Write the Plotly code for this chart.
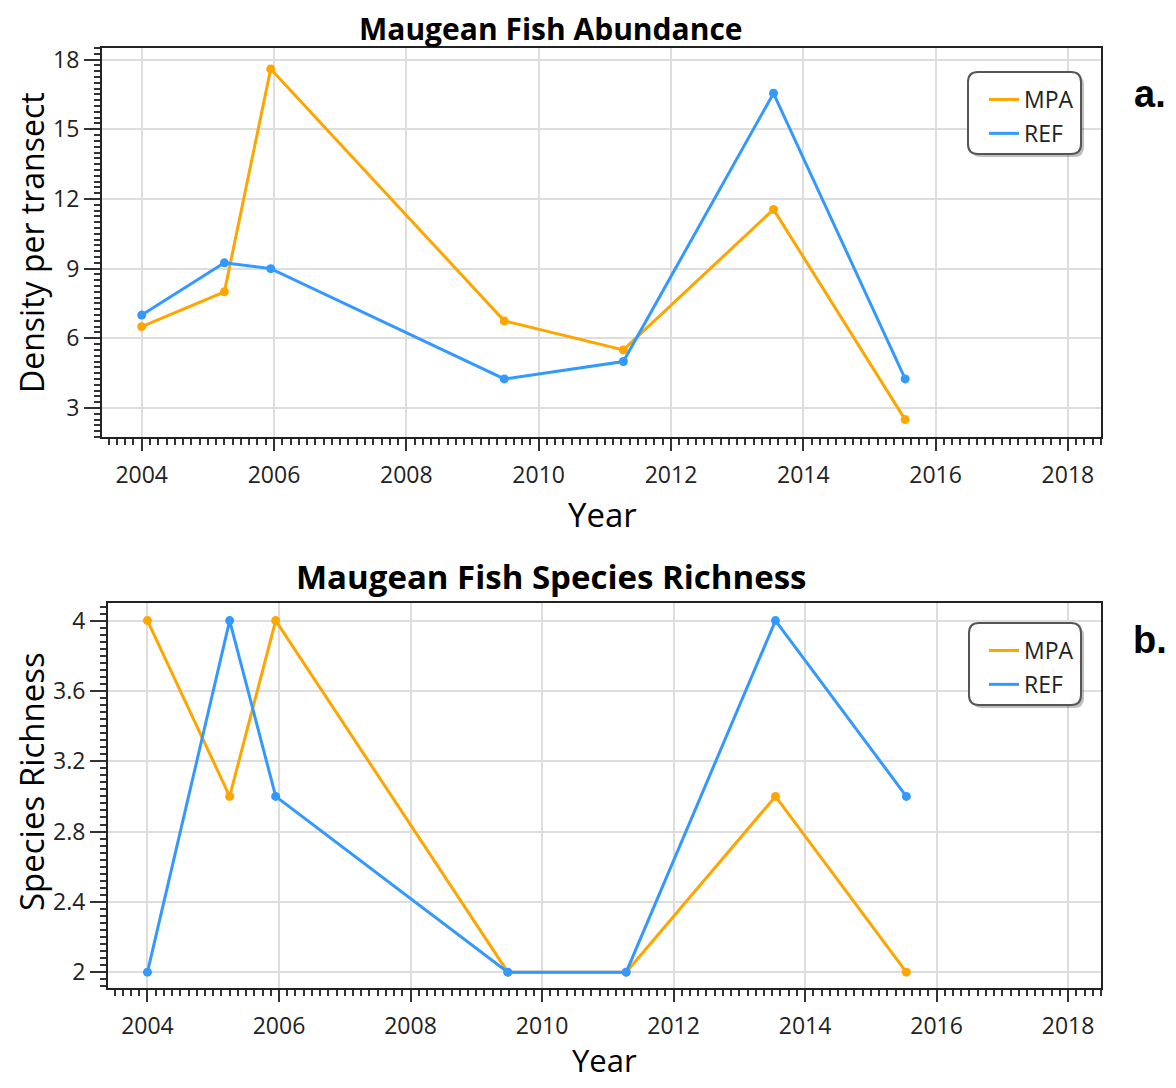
import plotly.graph_objects as go

# page body has an 8px margin; draw in a 1160x1072 figure and shift coordinates
OFF = 8
W, H = 1160, 1072

# ---- data ----
years = [2004.0, 2005.25, 2005.95, 2009.48, 2011.28, 2013.55, 2015.54]
abund_mpa = [6.5, 8.0, 17.6, 6.75, 5.5, 11.55, 2.5]
abund_ref = [7.0, 9.25, 9.0, 4.25, 5.0, 16.55, 4.25]
rich_mpa = [4, 3, 4, 2, 2, 3, 2]
rich_ref = [2, 4, 3, 2, 2, 4, 3]
x_ticks = [2004, 2006, 2008, 2010, 2012, 2014, 2016, 2018]
abund_ticks = [3, 6, 9, 12, 15, 18]
rich_ticks = [2, 2.4, 2.8, 3.2, 3.6, 4]
rich_tick_text = ["2", "2.4", "2.8", "3.2", "3.6", "4"]

ORANGE = "#FFA500"
BLUE = "#3399FF"
FONT = "Open Sans"

def px(x):
    return (x - OFF) / W

def py(y):
    return 1 - (y - OFF) / H

fig = go.Figure()

def add_series(x, y, name, color, xa, ya, legend):
    fig.add_trace(go.Scatter(
        x=x, y=y, name=name, mode="lines+markers",
        line=dict(color=color, width=3),
        marker=dict(color=color, size=9),
        xaxis=xa, yaxis=ya, showlegend=False, legendgroup=legend + name))
    # legend entry (line only)
    fig.add_trace(go.Scatter(
        x=[None], y=[None], name=name, mode="lines",
        line=dict(color=color, width=3),
        xaxis=xa, yaxis=ya, legend=legend, showlegend=True,
        legendgroup=legend + name))

add_series(years, abund_mpa, "MPA", ORANGE, "x", "y", "legend")
add_series(years, abund_ref, "REF", BLUE, "x", "y", "legend")
add_series(years, rich_mpa, "MPA", ORANGE, "x2", "y2", "legend2")
add_series(years, rich_ref, "REF", BLUE, "x2", "y2", "legend2")

tickfont = dict(family=FONT, size=23, color="#222222")
common_x = dict(
    tickvals=x_ticks, ticktext=[str(v) for v in x_ticks],
    range=[2003.4, 2018.5], showgrid=True, gridcolor="#DDDDDD", gridwidth=1.5,
    showline=True, linecolor="#222222", linewidth=2, mirror=True,
    ticks="outside", ticklen=12, tickwidth=2, tickcolor="#333333",
    ticklabelstandoff=4,
    minor=dict(ticks="outside", ticklen=6, tickwidth=1.5, tickcolor="#333333",
               dtick=0.125, tick0=2004, showgrid=False),
    tickfont=tickfont, zeroline=False, automargin=False,
)
common_y = dict(
    showgrid=True, gridcolor="#DDDDDD", gridwidth=1.5,
    showline=True, linecolor="#222222", linewidth=2, mirror=True,
    ticks="outside", ticklen=16, tickwidth=1.5, tickcolor="#333333",
    tickfont=tickfont, zeroline=False, automargin=False,
)

legend_font = dict(family=FONT, size=23, color="#222222")
fig.update_layout(
    width=W, height=H,
    margin=dict(l=0, r=0, t=0, b=0),
    paper_bgcolor="white", plot_bgcolor="white",
    xaxis=dict(domain=[px(102), px(1101)], anchor="y", **common_x),
    yaxis=dict(domain=[py(437), py(48)], anchor="x", range=[1.75, 18.5],
               tickvals=abund_ticks,
               minor=dict(ticks="outside", ticklen=6, tickwidth=1.5,
                          tickcolor="#333333", dtick=0.25, tick0=0, showgrid=False),
               **common_y),
    xaxis2=dict(domain=[px(108), px(1101)], anchor="y2", **common_x),
    yaxis2=dict(domain=[py(988), py(603)], anchor="x2", range=[1.91, 4.1],
                tickvals=rich_ticks, ticktext=rich_tick_text,
                minor=dict(ticks="outside", ticklen=6, tickwidth=1.5,
                           tickcolor="#333333", dtick=0.04, tick0=2, showgrid=False),
                **common_y),
    legend=dict(x=px(984), y=py(78), xanchor="left", yanchor="top",
                bgcolor="rgba(0,0,0,0)", borderwidth=0, tracegroupgap=1,
                itemwidth=30, font=legend_font),
    legend2=dict(x=px(984), y=py(629), xanchor="left", yanchor="top",
                 bgcolor="rgba(0,0,0,0)", borderwidth=0, tracegroupgap=1,
                 itemwidth=30, font=legend_font),
    showlegend=True,
)

def rounded_rect(x0, y0, x1, y1, r):
    rx, ry = r / W, r / H
    X0, X1 = px(x0), px(x1)
    Y0, Y1 = py(y1), py(y0)  # Y0 bottom, Y1 top in paper
    return (f"M {X0+rx},{Y1} L {X1-rx},{Y1} Q {X1},{Y1} {X1},{Y1-ry} "
            f"L {X1},{Y0+ry} Q {X1},{Y0} {X1-rx},{Y0} L {X0+rx},{Y0} "
            f"Q {X0},{Y0} {X0},{Y0+ry} L {X0},{Y1-ry} Q {X0},{Y1} {X0+rx},{Y1} Z")

shapes = []
for (x0, y0, x1, y1) in [(968, 72, 1081, 154), (969, 623, 1081, 705)]:
    shapes.append(dict(type="path", xref="paper", yref="paper",
                       path=rounded_rect(x0 + 3, y0 + 3, x1 + 3, y1 + 3, 10),
                       fillcolor="rgba(0,0,0,0.25)", line=dict(width=0), layer="above"))
    shapes.append(dict(type="path", xref="paper", yref="paper",
                       path=rounded_rect(x0, y0, x1, y1, 10),
                       fillcolor="white", line=dict(color="#555555", width=2), layer="above"))
fig.update_layout(shapes=shapes)

def ann(text, x, y, size, bold=False, angle=0, family=FONT):
    fig.add_annotation(text=f"<b>{text}</b>" if bold else text,
                       x=px(x), y=py(y), xref="paper", yref="paper",
                       xanchor="center", yanchor="middle", showarrow=False,
                       textangle=angle, font=dict(family=family, size=size, color="black"))

ann("Maugean Fish Abundance", 551, 28, 30, bold=True)
ann("Maugean Fish Species Richness", 551, 576, 33, bold=True)
ann("Density per transect", 31, 243, 32, angle=-90)
ann("Species Richness", 31, 782, 33, angle=-90)
ann("Year", 602, 515, 33)
ann("Year", 604, 1060, 31)
ann("a.", 1150, 94, 38, bold=True, family="Liberation Sans")
ann("b.", 1150, 640, 38, bold=True, family="Liberation Sans")

fig.write_html("out.html")
